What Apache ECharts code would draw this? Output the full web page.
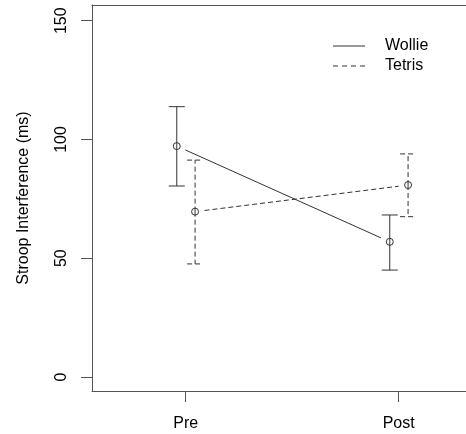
<!DOCTYPE html>
<html>
<head>
<meta charset="utf-8">
<script src="https://cdn.jsdelivr.net/npm/echarts@6/dist/echarts.min.js"></script>
<style>
html,body{margin:0;padding:0;background:#fff;}
#chart{width:466px;height:434px;}
</style>
</head>
<body>
<div id="chart"></div>
<script>
// ---- data ----
const categories = ['Pre', 'Post'];
const seriesNames = ['Wollie', 'Tetris'];
const wollieMean  = [97.2, 56.9];
const wollieLower = [80.4, 45.0];
const wollieUpper = [113.8, 68.2];
const tetrisMean  = [69.6, 80.8];
const tetrisLower = [47.6, 67.5];
const tetrisUpper = [91.3, 93.9];
const yTicks = [0, 50, 100, 150];
const yTitle = 'Stroop Interference (ms)';

// ---- layout / style ----
const FONT = 'Liberation Sans, Arial, sans-serif';
const DATA_COLOR = '#333';
const AXIS_COLOR = '#555';
const dodge = [-0.042, 0.044];
const capHalf = 8;
const pointR = 3.5;
const gap = 9.5;
const dashes = [[], [5, 3]];

const catPos = categories.map((c, i) => i + 1);

function buildData(mean, lo, hi, k) {
  return catPos.map((p, i) => [p + dodge[k], mean[i], lo[i], hi[i]]);
}
const groups = [
  buildData(wollieMean, wollieLower, wollieUpper, 0),
  buildData(tetrisMean, tetrisLower, tetrisUpper, 1)
];

function makeRender(k) {
  const rows = groups[k];
  const dash = dashes[k];
  return function (params, api) {
    const i = params.dataIndex;
    const x = api.value(0);
    const m = api.coord([x, api.value(1)]);
    const lo = api.coord([x, api.value(2)]);
    const hi = api.coord([x, api.value(3)]);
    const style = { stroke: DATA_COLOR, lineWidth: 1, fill: null, lineDash: dash.length ? dash : null };
    const children = [
      { type: 'line', shape: { x1: m[0], y1: m[1], x2: hi[0], y2: hi[1] }, style },
      { type: 'line', shape: { x1: m[0], y1: m[1], x2: lo[0], y2: lo[1] }, style },
      { type: 'line', shape: { x1: hi[0] - capHalf, y1: hi[1], x2: hi[0] + capHalf, y2: hi[1] }, style },
      { type: 'line', shape: { x1: lo[0] - capHalf, y1: lo[1], x2: lo[0] + capHalf, y2: lo[1] }, style },
      { type: 'circle', shape: { cx: m[0], cy: m[1], r: pointR }, style: { stroke: DATA_COLOR, lineWidth: 1, fill: null } }
    ];
    if (i < rows.length - 1) {
      const n = api.coord([rows[i + 1][0], rows[i + 1][1]]);
      const dx = n[0] - m[0], dy = n[1] - m[1];
      const len = Math.sqrt(dx * dx + dy * dy);
      const ux = dx / len, uy = dy / len;
      children.push({
        type: 'line',
        shape: { x1: m[0] + ux * gap, y1: m[1] + uy * gap, x2: n[0] - ux * gap, y2: n[1] - uy * gap },
        style
      });
    }
    return { type: 'group', children };
  };
}

const solidIcon = 'path://M0,0H32V1H0Z';
const dashIcon = 'path://M0,0H5V1H0Z M9,0H14V1H9Z M18,0H23V1H18Z M27,0H32V1H27Z';

const chart = echarts.init(document.getElementById('chart'), null, { renderer: 'canvas' });
chart.setOption({
  animation: false,
  backgroundColor: '#fff',
  textStyle: { fontFamily: FONT },
  grid: {
    left: 92, top: 5, bottom: 43, right: 0,
    show: false
  },
  legend: {
    orient: 'vertical',
    left: 328,
    top: 33,
    itemWidth: 32,
    itemHeight: 1,
    itemGap: 4,
    selectedMode: false,
    textStyle: { fontSize: 16, fontFamily: FONT, color: '#000', lineHeight: 16, padding: [0, 0, 0, 15] },
    data: [
      { name: seriesNames[0], icon: solidIcon, itemStyle: { color: DATA_COLOR } },
      { name: seriesNames[1], icon: dashIcon, itemStyle: { color: DATA_COLOR } }
    ]
  },
  xAxis: [{
    type: 'value',
    position: 'bottom',
    min: 0.56,
    max: 2.316,
    axisLine: { show: true, onZero: false, lineStyle: { color: AXIS_COLOR, width: 1 } },
    splitLine: { show: false },
    axisTick: { show: true, inside: false, length: 11, customValues: catPos, lineStyle: { color: AXIS_COLOR } },
    axisLabel: {
      customValues: catPos,
      margin: 25,
      fontSize: 16,
      fontFamily: FONT,
      color: '#000',
      formatter: v => categories[Math.round(v) - 1]
    }
  }, {
    type: 'value',
    position: 'top',
    min: 0.56,
    max: 2.316,
    axisLine: { show: true, onZero: false, lineStyle: { color: AXIS_COLOR, width: 1 } },
    splitLine: { show: false },
    axisTick: { show: false },
    axisLabel: { show: false }
  }],
  yAxis: {
    type: 'value',
    min: -5.9,
    max: 156.6,
    name: yTitle,
    nameLocation: 'middle',
    nameRotate: 90,
    nameGap: 60,
    nameTextStyle: { fontSize: 16, fontFamily: FONT, color: '#000' },
    axisLine: { show: true, onZero: false, lineStyle: { color: AXIS_COLOR, width: 1 } },
    splitLine: { show: false },
    axisTick: { show: true, inside: false, length: 11, customValues: yTicks, lineStyle: { color: AXIS_COLOR } },
    axisLabel: {
      customValues: yTicks,
      rotate: 90,
      margin: 22,
      fontSize: 16,
      fontFamily: FONT,
      color: '#000'
    }
  },
  series: groups.map((g, k) => ({
    name: seriesNames[k],
    type: 'custom',
    clip: false,
    xAxisIndex: 0,
    yAxisIndex: 0,
    itemStyle: { color: DATA_COLOR },
    encode: { x: 0, y: [1, 2, 3] },
    renderItem: makeRender(k),
    data: g
  }))
});
</script>
</body>
</html>
